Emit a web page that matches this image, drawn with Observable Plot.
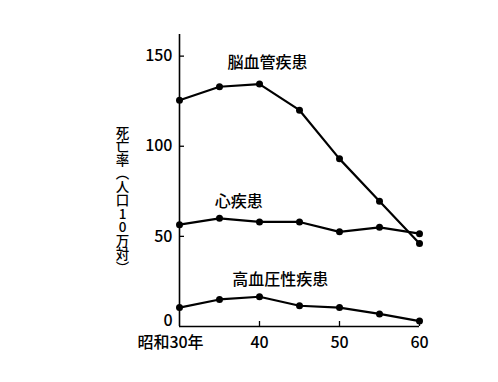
<!DOCTYPE html>
<html><head><meta charset="utf-8">
<script src="https://cdn.jsdelivr.net/npm/d3@7"></script>
<script src="https://cdn.jsdelivr.net/npm/@observablehq/plot@0.6"></script>
<style>body{margin:0;background:#fff}</style>
</head><body><div id="chart"></div>
<script>
const years = [30, 35, 40, 45, 50, 55, 60];
const cerebrovascular = [125.5, 133, 134.5, 120, 93, 69.5, 46];
const heart = [56.5, 60, 58, 58, 52.5, 55, 51.5];
const hypertensive = [10.5, 15, 16.5, 11.5, 10.5, 7, 3];
const seriesNames = ["脳血管疾患", "心疾患", "高血圧性疾患"];
const labelYear = [41, 37.4, 42.6];
const labelValue = [146, 69, 26];
const yTicks = [0, 50, 100, 150];
const xTicks = [40, 50, 60];
const firstXTickLabel = "昭和30年";
const yLabel = "死亡率︵人口10万対︶";

const seriesValues = [cerebrovascular, heart, hypertensive];
const rows = seriesValues.flatMap((vals, i) =>
  years.map((yr, j) => ({year: yr, value: vals[j], series: seriesNames[i]})));
const labels = seriesNames.map((s, i) => ({year: labelYear[i], value: labelValue[i], text: s}));

const font = "'Noto Sans CJK JP', sans-serif";
const plot = Plot.plot({
  width: 498, height: 382,
  marginLeft: 179, marginRight: 79, marginTop: 34, marginBottom: 56,
  x: {domain: [30, 60]},
  y: {domain: [0, 162]},
  style: {fontSize: "16px", fontFamily: font, fontWeight: 500, color: "black", background: "white"},
  marks: [
    Plot.ruleX([30], {stroke: "black", strokeWidth: 1.6}),
    Plot.ruleY([0], {stroke: "black", strokeWidth: 1.6}),
    Plot.tickY(yTicks.slice(1), {y: d => d, insetRight: 235, stroke: "black", strokeWidth: 1.3}),
    Plot.tickX(xTicks, {x: d => d, insetTop: 287, stroke: "black", strokeWidth: 1.3}),
    Plot.axisY(yTicks.slice(1), {tickSize: 0, tickPadding: 7, label: null, fill: "black"}),
    Plot.axisY(yTicks.slice(0, 1), {tickSize: 0, tickPadding: 7, label: null, fill: "black", dy: -6}),
    Plot.axisX(xTicks, {tickSize: 0, tickPadding: 10, label: null, fill: "black"}),
    Plot.axisX([30], {tickSize: 0, tickPadding: 10, label: null, fill: "black", dx: -9, tickFormat: () => firstXTickLabel}),
    Plot.line(rows, {x: "year", y: "value", z: "series", stroke: "black", strokeWidth: 2.2}),
    Plot.dot(rows, {x: "year", y: "value", r: 3.5, fill: "black"}),
    Plot.text(labels, {x: "year", y: "value", text: "text", fontSize: 16, fill: "black"}),
    Plot.text([yLabel], {
      frameAnchor: "left", dx: -57, dy: -59, fontSize: 13.5, fill: "black", text: d => d,
      render(index, scales, values, dims, ctx, next) {
        const g = next(index, scales, values, dims, ctx);
        d3.select(g).selectAll("text")
          .style("writing-mode", "vertical-rl")
          .style("text-orientation", "upright");
        return g;
      }
    })
  ]
});
document.getElementById("chart").appendChild(plot);
</script>
</body></html>
